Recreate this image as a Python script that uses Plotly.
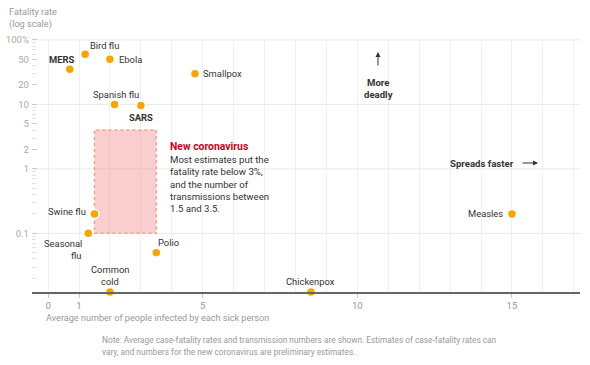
import plotly.graph_objects as go
import math

# ---- data ----
diseases = ["MERS", "Bird flu", "Ebola", "Smallpox", "Spanish flu", "SARS",
            "Swine flu", "Seasonal flu", "Polio", "Common cold", "Chickenpox", "Measles"]
transmission = [0.7, 1.2, 2.0, 4.75, 2.15, 3.0, 1.5, 1.3, 3.5, 2.0, 8.5, 15.0]
fatality = [35, 60, 50, 30, 10, 9.6, 0.2, 0.1, 0.05, 0.0123, 0.0123, 0.2]

# label lines and placement (anchor, x offset px, y offset px of first line, bold)
label_lines = [["MERS"], ["Bird flu"], ["Ebola"], ["Smallpox"], ["Spanish flu"], ["SARS"],
               ["Swine flu"], ["Seasonal", "flu"], ["Polio"], ["Common", "cold"], ["Chickenpox"], ["Measles"]]
label_pos = [
    ("center", -8, 10, True),
    ("left", 3, 9, False),
    ("left", 7, 0, False),
    ("left", 6, 0, False),
    ("center", 1, 10, False),
    ("center", 0, -12, True),
    ("right", -6, 2, False),
    ("right", -4, -10, False),
    ("left", 0, 10, False),
    ("center", 0, 23, False),
    ("center", 0, 11, False),
    ("right", -7, 0, False),
]

cov_x = [1.5, 3.5]
cov_y = [0.1, 4.0]
cov_lines = ["Most estimates put the", "fatality rate below 3%,", "and the number of",
             "transmissions between", "1.5 and 3.5."]

x_ticks = [0, 1, 5, 10, 15]
y_ticks = [0.1, 1, 2, 5, 10, 20, 50, 100]
y_tick_text = ["0.1", "1", "2", "5", "10", "20", "50", "100%"]
y_grid = [0.1, 1, 10, 100]

x_range = [-0.52, 17.2]
y_range = [math.log10(0.0123), 2.03]

FONT = "Roboto"
DOT = "#f8a500"
LH = 12.4  # line height px

fig = go.Figure()

# coronavirus box
fig.add_shape(type="rect", x0=cov_x[0], x1=cov_x[1], y0=cov_y[0], y1=cov_y[1],
              xref="x", yref="y", fillcolor="rgba(240,120,120,0.36)",
              line=dict(color="#f4a08e", width=1.5, dash="dot"), layer="between")

# horizontal decade gridlines
for g in y_grid:
    fig.add_shape(type="line", xref="paper", x0=0, x1=1, yref="y", y0=g, y1=g,
                  line=dict(color="#e9e9e9", width=1), layer="below")

fig.add_trace(go.Scatter(
    x=transmission, y=fatality, mode="markers", text=diseases,
    marker=dict(color=DOT, size=9, line=dict(color="white", width=1.5)),
    cliponaxis=False, hoverinfo="text", showlegend=False))

for lines, xv, yv, (xa, dx, dy, bold) in zip(label_lines, transmission, fatality, label_pos):
    for i, ln in enumerate(lines):
        fig.add_annotation(x=xv, y=math.log10(yv), xref="x", yref="y",
                           text=f"<b>{ln}</b>" if bold else ln,
                           showarrow=False, xanchor=xa, yanchor="middle",
                           xshift=dx, yshift=dy - i * LH,
                           font=dict(family=FONT, size=9.4, color="#333"))

# coronavirus note
fig.add_annotation(x=cov_x[1], y=0, xref="x", yref="y", xshift=12, yshift=22,
                   xanchor="left", yanchor="middle", showarrow=False,
                   text="<b>New coronavirus</b>",
                   font=dict(family=FONT, size=10.4, color="#d0021b"))
for i, ln in enumerate(cov_lines):
    fig.add_annotation(x=cov_x[1], y=0, xref="x", yref="y", xshift=12, yshift=22 - (i + 1) * LH,
                       xanchor="left", yanchor="middle", showarrow=False, text=ln,
                       font=dict(family=FONT, size=9.6, color="#333"))

# helper for paper-pixel placement
PX0, PW, PY1, PH = 32, 548, 292, 254
def px(x): return (x - PX0) / PW
def py(y): return (PY1 - y) / PH

def txt(x, y, s, anchor="left", size=9.4, color="#999"):
    fig.add_annotation(xref="paper", yref="paper", x=px(x), y=py(y), xanchor=anchor,
                       yanchor="middle", showarrow=False, text=s,
                       font=dict(family=FONT, size=size, color=color))

txt(7, 12, "Fatality rate", size=9.2)
txt(7, 24, "(log scale)", size=9.2)

# More deadly
txt(378, 82, "<b>More</b>", "center", 9.6, "#333")
txt(378, 94, "<b>deadly</b>", "center", 9.6, "#333")
fig.add_annotation(xref="paper", yref="paper", x=px(378), y=py(52), ax=0, ay=15, text="",
                   showarrow=True, arrowhead=2, arrowsize=1, arrowwidth=1, arrowcolor="#333")

# Spreads faster
txt(516, 163, "<b>Spreads faster</b>", "right", 9.6, "#333")
fig.add_annotation(xref="paper", yref="paper", x=px(538), y=py(163), ax=-17, ay=0, text="",
                   showarrow=True, arrowhead=2, arrowsize=1, arrowwidth=1, arrowcolor="#333")

# x axis title
txt(44, 318, "Average number of people infected by each sick person", "left", 9.1, "#999")

# note
txt(100, 340, "Note: Average case-fatality rates and transmission numbers are shown. Estimates of case-fatality rates can",
    "left", 8.3, "#999")
txt(100, 352, "vary, and numbers for the new coronavirus are preliminary estimates.", "left", 8.3, "#999")

fig.update_xaxes(range=x_range, tickvals=x_ticks, ticks="outside", ticklen=4, tickcolor="#ccc",
                 showgrid=True, gridcolor="#f1f1f1", zeroline=False, automargin=False,
                 showline=True, linecolor="#666", linewidth=1.5,
                 minor=dict(dtick=1, showgrid=True, gridcolor="#f1f1f1"),
                 tickfont=dict(family=FONT, size=9.6, color="#999"))
fig.update_yaxes(type="log", range=y_range, tickvals=y_ticks, ticktext=y_tick_text,
                 ticks="inside", ticklen=5, tickcolor="#ccc", showgrid=False, zeroline=False,
                 showline=False, ticklabelstandoff=2, automargin=False,
                 minor=dict(ticks="inside", ticklen=4, tickcolor="#e2e2e2", dtick="D1", showgrid=False),
                 tickfont=dict(family=FONT, size=9.6, color="#aaa"))

fig.update_layout(width=590, height=365, margin=dict(l=32, r=10, t=38, b=73),
                  paper_bgcolor="white", plot_bgcolor="white",
                  font=dict(family=FONT))

fig.write_html("out.html", config={"displayModeBar": False},
               post_script="document.body.style.margin='0';")
